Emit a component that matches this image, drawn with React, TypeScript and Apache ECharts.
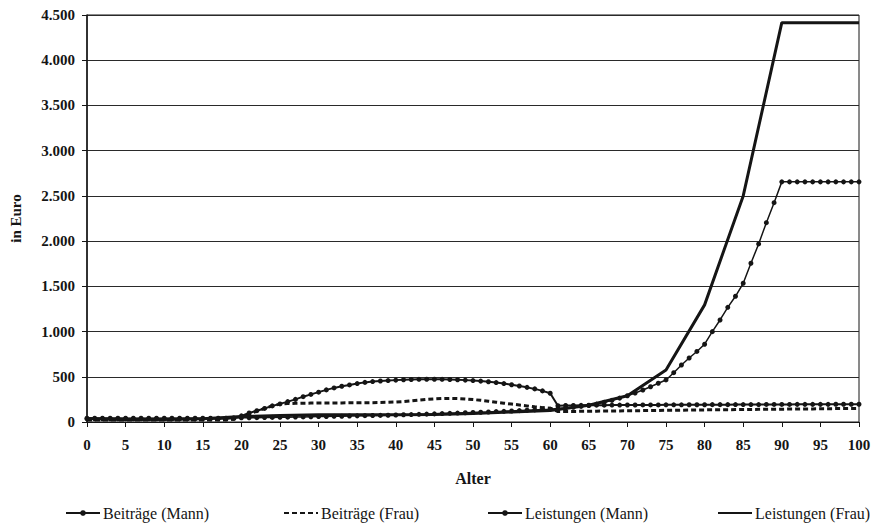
import React, { useEffect, useRef } from "react";
import * as echarts from "echarts";

const ages: string[] = Array.from({ length: 101 }, (_, i) => String(i));

const beitraegeMann: number[] = [
  35, 35, 35, 35, 35, 35, 35, 35, 35, 35, 35, 35, 35, 35, 35, 35, 35, 35, 35,
  42, 68, 100, 125, 150, 178, 200, 225, 250, 280, 305,
  330, 355, 377, 395, 410, 425, 438, 447, 453, 458,
  463, 467, 470, 472, 473, 473, 472, 470, 467, 463,
  458, 452, 445, 436, 425, 412, 398, 383, 366, 344,
  318, 180, 182, 183, 184, 185, 186, 186, 187, 187,
  188, 188, 189, 189, 189, 190, 190, 190, 191, 191,
  191, 192, 192, 192, 193, 193, 193, 193, 194, 194,
  194, 194, 195, 195, 195, 195, 195, 196, 196, 196, 196,
];

const beitraegeFrau: number[] = [
  22, 22, 22, 22, 22, 22, 22, 22, 22, 22, 22, 22, 22, 22, 22, 22, 22, 22, 22,
  30, 55, 90, 120, 150, 178, 198, 204, 207, 208, 209,
  210, 210, 211, 211, 212, 212, 213, 214, 216, 218,
  221, 226, 233, 241, 249, 255, 259, 261, 259, 255,
  248, 240, 230, 219, 208, 198, 188, 178, 168, 159,
  152, 116, 116, 117, 118, 119, 120, 121, 122, 123,
  124, 125, 126, 127, 128, 129, 130, 131, 132, 133,
  134, 135, 135, 136, 137, 138, 139, 140, 140, 141,
  142, 143, 144, 145, 145, 146, 147, 148, 148, 149, 150,
];

const leistungenMann: number[] = [
  42, 42, 42, 42, 42, 42, 42, 42, 42, 42, 42, 42, 42, 42, 42, 42, 42, 42, 42,
  44, 46, 47, 48, 50, 51, 52, 53, 55, 56, 58,
  60, 61, 63, 64, 66, 68, 70, 72, 73, 75,
  77, 80, 82, 85, 87, 90, 93, 96, 99, 102,
  105, 108, 111, 115, 118, 122, 126, 130, 134, 138,
  142, 148, 155, 163, 172, 182, 198, 218, 240, 264,
  290, 320, 354, 390, 428, 465, 545, 630, 708, 780,
  860, 999, 1128, 1268, 1390, 1534, 1755, 1969, 2204, 2425,
  2655, 2655, 2655, 2655, 2655, 2655, 2655, 2655, 2655, 2655, 2655,
];

// Leistungen (Frau): values read at the 5-year points, joined by straight lines
const leistungenFrauAges: number[] = [0, 5, 10, 15, 20, 25, 30, 35, 40, 45, 50, 55, 60, 65, 70, 75, 80, 85, 90, 95, 100];
const leistungenFrauValues: number[] = [38, 30, 28, 35, 60, 72, 80, 80, 80, 84, 95, 110, 128, 185, 290, 575, 1295, 2500, 4415, 4415, 4415];

const yTicks = { min: 0, max: 4500, interval: 500 };

const FONT = "'Liberation Serif', 'DejaVu Serif', serif";
const INK = "#151515";

export default function App() {
  const ref = useRef<HTMLDivElement>(null);

  useEffect(() => {
    if (!ref.current) return;
    const chart = echarts.init(ref.current, undefined, { renderer: "svg" });

    const frauData: (number | null)[] = ages.map(() => null);
    leistungenFrauAges.forEach((a, i) => {
      frauData[a] = leistungenFrauValues[i];
    });

    const fmt = (v: number) => String(v).replace(/\B(?=(\d{3})+(?!\d))/g, ".");

    const legendBase = {
      top: 500,
      itemWidth: 34,
      itemHeight: 7,
      itemGap: 4,
      textStyle: { fontFamily: FONT, fontSize: 16, color: INK, padding: [0, 0, 0, -2] },
    };

    chart.setOption({
      animation: false,
      backgroundColor: "#fff",
      grid: {
        left: 83,
        right: 17,
        top: 15,
        bottom: 103,
        show: true,
        borderColor: INK,
        borderWidth: 1,
      },
      legend: [
        { ...legendBase, left: 60, data: ["Beiträge (Mann)"] },
        { ...legendBase, left: 278, data: ["Beiträge (Frau)"], itemStyle: { opacity: 0 } },
        { ...legendBase, left: 482, data: ["Leistungen (Mann)"] },
        { ...legendBase, left: 712, data: ["Leistungen (Frau)"], itemStyle: { opacity: 0 } },
      ],
      xAxis: {
        type: "category",
        data: ages,
        boundaryGap: false,
        name: "Alter",
        nameLocation: "middle",
        nameGap: 48,
        nameTextStyle: { fontFamily: FONT, fontSize: 16, fontWeight: "bold", color: INK },
        axisLine: { show: true, lineStyle: { color: INK, width: 1 } },
        axisTick: { show: true, interval: 4, length: 5, lineStyle: { color: INK } },
        axisLabel: {
          interval: 4,
          margin: 15,
          fontFamily: FONT,
          fontSize: 15,
          fontWeight: "bold",
          color: INK,
        },
        splitLine: { show: false },
      },
      yAxis: {
        type: "value",
        min: yTicks.min,
        max: yTicks.max,
        interval: yTicks.interval,
        name: "in Euro",
        nameLocation: "middle",
        nameGap: 64,
        nameTextStyle: { fontFamily: FONT, fontSize: 15, fontWeight: "bold", color: INK },
        axisLine: { show: true, lineStyle: { color: INK, width: 1.5 } },
        axisTick: { show: true, length: 5, lineStyle: { color: INK } },
        axisLabel: {
          margin: 12,
          fontFamily: FONT,
          fontSize: 15,
          fontWeight: "bold",
          color: INK,
          formatter: (v: number) => fmt(v),
        },
        splitLine: { show: true, lineStyle: { color: "#2a2a2a", width: 1 } },
      },
      series: [
        {
          name: "Beiträge (Mann)",
          type: "line",
          data: beitraegeMann,
          symbol: "circle",
          symbolSize: 5,
          showSymbol: true,
          lineStyle: { color: INK, width: 2 },
          itemStyle: { color: INK },
          z: 3,
        },
        {
          name: "Beiträge (Frau)",
          type: "line",
          data: beitraegeFrau,
          symbol: "none",
          lineStyle: { color: INK, width: 3, type: [5, 3] },
          itemStyle: { color: INK },
          z: 2,
        },
        {
          name: "Leistungen (Mann)",
          type: "line",
          data: leistungenMann,
          symbol: "circle",
          symbolSize: 5,
          showSymbol: true,
          lineStyle: { color: INK, width: 1.5 },
          itemStyle: { color: INK },
          z: 4,
        },
        {
          name: "Leistungen (Frau)",
          type: "line",
          data: frauData,
          connectNulls: true,
          symbol: "none",
          lineStyle: { color: INK, width: 3 },
          itemStyle: { color: INK },
          z: 5,
        },
      ],
    });

    return () => chart.dispose();
  }, []);

  return (
    <div
      ref={ref}
      style={{ position: "fixed", left: 0, top: 0, width: 876, height: 525, background: "#fff" }}
    />
  );
}
